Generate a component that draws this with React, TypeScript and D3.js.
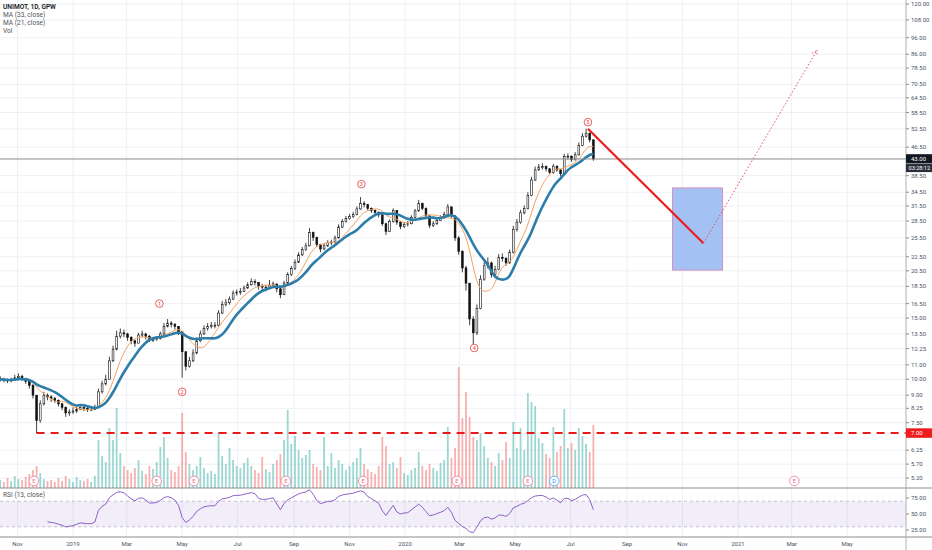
import React from "react"
import * as d3 from "d3"

const FIRST_BAR = "2018-10-13"
const BAR_DAYS = 4

const closes = [
  10.0, 9.95, 9.9, 9.95, 10.1, 10.2, 10.0, 9.85, 9.6, 9.0,
  7.6, 8.5, 9.0, 8.9, 8.8, 8.7, 8.5, 8.3, 8.0, 8.05,
  8.1, 8.2, 8.3, 8.25, 8.2, 8.2, 8.3, 9.2, 9.7, 10.0,
  11.3, 12.2, 13.3, 13.6, 13.5, 13.2, 12.9, 12.7, 13.4, 13.5,
  13.3, 13.0, 13.0, 13.1, 13.5, 14.2, 14.5, 14.4, 14.2, 13.7,
  12.0, 10.9, 11.3, 11.9, 12.9, 13.5, 14.0, 14.2, 14.3, 14.3,
  15.5, 16.4, 16.6, 17.0, 17.7, 17.8, 17.9, 18.3, 18.7, 19.1,
  19.0, 18.5, 18.4, 18.4, 18.6, 18.8, 18.2, 17.5, 18.9, 20.0,
  20.8, 21.7, 22.8, 23.6, 24.2, 26.4, 25.6, 24.4, 23.7, 24.2,
  24.7, 24.8, 25.5, 27.4, 28.4, 29.0, 29.4, 29.8, 30.9, 32.0,
  31.8, 31.0, 30.6, 30.2, 29.7, 28.0, 26.6, 28.4, 30.6, 28.3,
  27.5, 27.9, 28.0, 29.2, 30.5, 32.0, 31.0, 29.5, 27.7, 28.0,
  28.6, 29.1, 29.8, 31.3, 29.5, 25.5, 23.3, 20.9, 18.9, 14.9,
  13.6, 16.0, 19.4, 21.2, 21.6, 20.0, 20.7, 22.4, 22.3, 21.6,
  23.2, 27.0, 28.3, 30.1, 31.0, 33.8, 37.4, 40.0, 40.8, 40.9,
  40.3, 39.3, 41.0, 40.0, 39.0, 43.7, 43.8, 42.8, 44.2, 47.0,
  50.0, 51.0, 48.8, 43.0,
]

const highs = [
  10.2, 10.1, 10.05, 10.1, 10.3, 10.4, 10.3, 10.1, 9.9, 9.7,
  9.0, 8.7, 9.2, 9.1, 9.0, 8.9, 8.75, 8.55, 8.35, 8.2,
  8.3, 8.35, 8.45, 8.4, 8.35, 8.3, 8.45, 9.4, 9.9, 10.3,
  11.6, 12.5, 13.8, 14.0, 13.9, 13.6, 13.3, 13.0, 13.6, 13.8,
  13.6, 13.4, 13.2, 13.3, 13.7, 14.5, 14.9, 14.7, 14.5, 14.2,
  13.7, 12.0, 11.6, 12.2, 13.2, 13.8, 14.3, 14.5, 14.6, 14.6,
  15.8, 16.8, 17.0, 17.3, 18.0, 18.1, 18.3, 18.6, 19.0, 19.5,
  19.4, 19.0, 18.8, 18.7, 19.3, 19.1, 18.8, 18.3, 19.2, 20.3,
  21.2, 22.1, 23.2, 24.0, 24.7, 27.2, 26.6, 25.7, 24.5, 24.6,
  25.1, 25.2, 25.9, 27.9, 28.9, 29.5, 29.9, 30.3, 31.4, 33.4,
  32.5, 31.9, 31.2, 30.8, 30.4, 29.8, 28.2, 28.8, 31.0, 30.6,
  28.5, 28.3, 28.5, 29.6, 30.9, 32.8, 32.2, 31.2, 29.6, 28.5,
  29.0, 29.6, 30.3, 31.9, 31.4, 29.6, 25.8, 23.5, 21.2, 18.9,
  15.2, 16.4, 19.9, 21.8, 22.4, 21.8, 21.2, 22.9, 23.0, 22.4,
  23.6, 27.6, 28.9, 30.7, 31.6, 34.5, 38.2, 40.9, 41.6, 41.8,
  41.2, 40.5, 41.6, 41.2, 40.2, 44.5, 44.6, 44.0, 45.0, 48.0,
  51.0, 52.5, 51.2, 49.0,
]

const lows = [
  9.85, 9.8, 9.75, 9.8, 9.9, 10.0, 9.9, 9.7, 9.4, 8.8,
  7.0, 7.5, 8.4, 8.7, 8.6, 8.55, 8.35, 8.15, 7.8, 7.85,
  7.95, 8.0, 8.15, 8.1, 8.05, 8.1, 8.15, 8.3, 9.1, 9.6,
  10.0, 11.2, 12.1, 13.1, 13.2, 12.9, 12.6, 12.4, 12.7, 13.2,
  13.0, 12.8, 12.8, 12.9, 13.0, 13.4, 14.1, 14.1, 13.9, 13.4,
  10.1, 10.6, 10.8, 11.2, 11.8, 12.8, 13.4, 13.8, 14.0, 14.0,
  14.2, 15.4, 16.2, 16.4, 16.9, 17.4, 17.5, 17.8, 18.2, 18.6,
  18.6, 18.1, 18.0, 17.9, 18.2, 18.4, 17.8, 17.1, 17.5, 18.8,
  19.8, 20.6, 21.6, 22.6, 23.4, 24.1, 25.0, 24.0, 23.2, 23.5,
  24.0, 24.3, 24.6, 25.4, 27.2, 28.2, 28.8, 29.1, 29.6, 30.7,
  31.2, 30.6, 30.1, 29.8, 29.2, 27.6, 26.0, 26.5, 28.2, 27.8,
  27.0, 27.2, 27.5, 27.9, 29.0, 30.3, 30.6, 29.0, 27.2, 27.4,
  27.8, 28.5, 29.0, 29.7, 29.0, 25.0, 22.8, 20.3, 18.0, 14.3,
  12.6, 13.4, 15.9, 19.2, 20.8, 19.6, 19.8, 20.6, 21.8, 21.2,
  21.5, 23.0, 26.6, 28.0, 29.8, 30.8, 33.6, 37.2, 39.8, 40.1,
  39.6, 38.8, 39.0, 39.5, 38.3, 38.9, 42.8, 42.2, 42.5, 44.0,
  46.8, 49.5, 48.0, 42.5,
]

// volume, thousands of shares
const volumes = [
  8, 6, 10, 7, 12, 9, 8, 11, 14, 18,
  22, 15, 9, 7, 8, 6, 10, 7, 12, 9,
  6, 11, 8, 7, 9, 6, 12, 48, 32, 26,
  60, 48, 80, 35, 22, 18, 15, 20, 28, 17,
  14, 22, 19, 26, 41, 51, 30, 18, 16, 22,
  75, 36, 24, 18, 22, 31, 20, 15, 17, 14,
  56, 32, 24, 40, 28, 22, 20, 25, 30, 22,
  18, 15, 31, 19, 16, 24, 28, 34, 48, 78,
  44, 52, 38, 30, 33, 38, 24, 21, 18, 51,
  22, 35, 20, 28, 24, 18, 22, 26, 30, 40,
  24, 19, 16, 14, 22, 51, 42, 24, 26, 20,
  31, 15, 13, 18, 20, 36, 22, 18, 24, 20,
  17, 25, 28, 61, 30, 40, 121, 70, 96, 71,
  51, 48, 55, 42, 30, 26, 22, 35, 28, 46,
  30, 66, 40, 60, 38, 95, 86, 82, 50, 45,
  34, 30, 61, 36, 42, 79, 40, 45, 38, 60,
  52, 44, 36, 63,
]

const priceTicks = [
  120, 108, 96, 86, 78.5, 70.5, 64.5, 58.5, 52.5, 46.5, 38.5, 34.5, 31.5, 28.5, 25.5,
  22.5, 20.5, 18.5, 16.5, 15, 13.5, 12.25, 11, 10, 9, 8.25, 7.5, 6.25, 5.7, 5.2,
]
const rsiTicks = [75, 50, 25]
const rsiBand = [70, 30]

const lastPrice = 43.0
const supportLevel = 7.0
const countdown = "03:28:12"

const waveLabels = [
  { n: "1", date: "2019-04-06", price: 16.5 },
  { n: "2", date: "2019-05-01", price: 9.2 },
  { n: "3", date: "2019-11-14", price: 36.4 },
  { n: "4", date: "2020-03-17", price: 12.3 },
  { n: "5", date: "2020-07-20", price: 54.9 },
]

const events = [
  { t: "E", date: "2018-11-19" },
  { t: "E", date: "2019-04-03" },
  { t: "E", date: "2019-05-14" },
  { t: "E", date: "2019-08-23" },
  { t: "E", date: "2019-11-16" },
  { t: "E", date: "2020-02-27" },
  { t: "E", date: "2020-05-15" },
  { t: "D", date: "2020-06-13" },
  { t: "E", date: "2021-03-04" },
]

const dropLine = [
  { date: "2020-07-20", price: 52.5 },
  { date: "2020-11-24", price: 24.6 },
]
const reboundTarget = { date: "2021-03-29", price: 88.5 }
const targetBox = { from: "2020-10-21", to: "2020-12-15", top: 35.5, bottom: 20.6 }

// ---- helpers ----
const parse = d3.timeParse("%Y-%m-%d")
const day = (s: string) => parse(s) as Date

// daily MA periods translated to 4-calendar-day bars (~2.86 sessions each)
const SESSIONS_PER_BAR = (BAR_DAYS * 5) / 7
const per = (n: number) => Math.round(n / SESSIONS_PER_BAR)
// sampled closes are much smoother than dailies, so RSI keeps the full 13-bar lookback
const RSI_BARS = 13

function sma(values: number[], n: number) {
  return values.map((_, i) => d3.mean(values.slice(Math.max(0, i - n + 1), i + 1)) as number)
}

function rsi(values: number[], n: number) {
  const out: (number | null)[] = values.map(() => null)
  let up = 0
  let down = 0
  for (let i = 1; i < values.length; i++) {
    const ch = values[i] - values[i - 1]
    const g = Math.max(ch, 0)
    const l = Math.max(-ch, 0)
    if (i <= n) {
      up += g / n
      down += l / n
      if (i < n) continue
    } else {
      up = (up * (n - 1) + g) / n
      down = (down * (n - 1) + l) / n
    }
    out[i] = down === 0 ? 100 : 100 - 100 / (1 + up / down)
  }
  return out
}

const W = 932
const H = 550
const PLOT_R = 906
const MAIN_BOTTOM = 488
const RSI_BOTTOM = 537
const FONT = "Roboto, 'Liberation Sans', sans-serif"

export default function App() {
  const first = day(FIRST_BAR)
  const dates = closes.map((_, i) => d3.timeDay.offset(first, i * BAR_DAYS))
  const opens = closes.map((c, i) => (i === 0 ? c : closes[i - 1]))
  const maSlow = sma(closes, per(33))
  const maFast = sma(closes, per(21))
  const rsiVals = rsi(closes, RSI_BARS)

  const x = d3.scaleTime().domain([day("2019-01-01"), day("2021-01-01")]).range([73, 738])
  const y = d3.scaleLog().domain([5.2, 120]).range([478, 4])
  const yVol = d3.scaleLinear().domain([0, d3.max(volumes) as number]).range([MAIN_BOTTOM, 367])
  const yRsi = d3.scaleLinear().domain([25, 75]).range([530, 498])

  const months = d3.timeMonth.range(day("2018-11-01"), day("2021-06-01"), 2)
  const fmtMonth = (d: Date) => (d.getMonth() === 0 ? d3.timeFormat("%Y")(d) : d3.timeFormat("%b")(d))

  const maLine = d3
    .line<number>()
    .x((_, i) => x(dates[i]))
    .y((v) => y(v))
    .curve(d3.curveBasis)

  const rsiLine = d3
    .line<number | null>()
    .defined((v) => v != null)
    .x((_, i) => x(dates[i]))
    .y((v) => yRsi(v as number))

  const bw = 1.8
  const vw = 1.8

  // support line starts at the bar with the lowest low
  const lowIdx = d3.minIndex(lows)

  const p0 = [x(day(dropLine[0].date)), y(dropLine[0].price)]
  const p1 = [x(day(dropLine[1].date)), y(dropLine[1].price)]
  const p2 = [x(day(reboundTarget.date)), y(reboundTarget.price)]
  const ang = Math.atan2(p2[1] - p1[1], p2[0] - p1[0])
  const head = (a: number) => [p2[0] - 6 * Math.cos(ang + a), p2[1] - 6 * Math.sin(ang + a)]
  const h1 = head(0.45)
  const h2 = head(-0.45)

  return (
    <svg
      width={W}
      height={H}
      style={{ position: "absolute", left: 0, top: 0, background: "#fff" }}
      fontFamily={FONT}
    >
      <defs>
        <clipPath id="main">
          <rect x={0} y={0} width={PLOT_R} height={MAIN_BOTTOM} />
        </clipPath>
        <clipPath id="rsi">
          <rect x={0} y={MAIN_BOTTOM} width={PLOT_R} height={RSI_BOTTOM - MAIN_BOTTOM} />
        </clipPath>
      </defs>

      {/* grid */}
      <g stroke="#eef0f5" strokeWidth={1}>
        {priceTicks.map((t) => (
          <line key={t} x1={0} x2={PLOT_R} y1={y(t)} y2={y(t)} />
        ))}
        {months.map((m) => (
          <line key={+m} x1={x(m)} x2={x(m)} y1={0} y2={RSI_BOTTOM} />
        ))}
      </g>

      <g clipPath="url(#main)">
        {/* volume */}
        {volumes.map((v, i) => (
          <rect
            key={i}
            x={x(dates[i]) - vw / 2}
            y={yVol(v)}
            width={vw}
            height={MAIN_BOTTOM - yVol(v)}
            fill={closes[i] >= opens[i] ? "rgba(38,166,154,0.45)" : "rgba(239,83,80,0.45)"}
          />
        ))}

        {/* support level */}
        <line
          x1={x(dates[lowIdx])}
          x2={PLOT_R}
          y1={y(supportLevel)}
          y2={y(supportLevel)}
          stroke="#e8191b"
          strokeWidth={2}
          strokeDasharray="8,6"
        />

        {/* candles */}
        {closes.map((c, i) => {
          const cx = x(dates[i])
          const o = opens[i]
          const top = y(Math.max(o, c))
          const bot = y(Math.min(o, c))
          return (
            <g key={i}>
              <line x1={cx} x2={cx} y1={y(highs[i])} y2={y(lows[i])} stroke="#111" strokeWidth={0.8} />
              <rect
                x={cx - bw / 2}
                y={top}
                width={bw}
                height={Math.max(bot - top, 0.8)}
                fill={c >= o ? "#fff" : "#111"}
                stroke="#111"
                strokeWidth={0.6}
              />
            </g>
          )
        })}

        {/* moving averages */}
        <path d={maLine(maFast) as string} fill="none" stroke="#f4a261" strokeWidth={1} />
        <path d={maLine(maSlow) as string} fill="none" stroke="#2c7daa" strokeWidth={2.6} />

        {/* last price line */}
        <line x1={0} x2={PLOT_R} y1={y(lastPrice)} y2={y(lastPrice)} stroke="#8a8a8a" strokeWidth={1} />

        {/* projection */}
        <rect
          x={x(day(targetBox.from))}
          y={y(targetBox.top)}
          width={x(day(targetBox.to)) - x(day(targetBox.from))}
          height={y(targetBox.bottom) - y(targetBox.top)}
          fill="#a4c1f4"
          stroke="#d58fc0"
          strokeWidth={1}
        />
        <line x1={p0[0]} y1={p0[1]} x2={p1[0]} y2={p1[1]} stroke="#ee1c1c" strokeWidth={2.2} />
        <line
          x1={p1[0]}
          y1={p1[1]}
          x2={p2[0]}
          y2={p2[1]}
          stroke="#ec4a5e"
          strokeWidth={1}
          strokeDasharray="1.5,2"
        />
        <polyline
          points={`${h1[0]},${h1[1]} ${p2[0]},${p2[1]} ${h2[0]},${h2[1]}`}
          fill="none"
          stroke="#ec4a5e"
          strokeWidth={0.8}
          strokeDasharray="1.5,1.5"
        />

        {/* wave count */}
        {waveLabels.map((w) => (
          <g key={w.n} transform={`translate(${x(day(w.date))},${y(w.price)})`}>
            <circle r={3.8} fill="#fff" stroke="#e53935" strokeWidth={0.8} />
            <text textAnchor="middle" y={2} fontSize={5.5} fill="#e53935">
              {w.n}
            </text>
          </g>
        ))}

        {/* earnings / dividends */}
        {events.map((e, i) => (
          <g key={i} transform={`translate(${x(day(e.date))},481)`}>
            <circle r={4.8} fill="#fff" stroke={e.t === "D" ? "#64b5f6" : "#f48fb1"} strokeWidth={1} />
            <text textAnchor="middle" y={2.1} fontSize={5.8} fill={e.t === "D" ? "#2196f3" : "#e57373"}>
              {e.t}
            </text>
          </g>
        ))}
      </g>

      {/* RSI pane */}
      <rect
        x={0}
        y={yRsi(rsiBand[0])}
        width={PLOT_R}
        height={yRsi(rsiBand[1]) - yRsi(rsiBand[0])}
        fill="rgba(149,117,205,0.13)"
      />
      {rsiBand.map((b) => (
        <line
          key={b}
          x1={0}
          x2={PLOT_R}
          y1={yRsi(b)}
          y2={yRsi(b)}
          stroke="#b8b2c8"
          strokeWidth={0.8}
          strokeDasharray="3,3"
        />
      ))}
      <g clipPath="url(#rsi)">
        <path d={rsiLine(rsiVals) as string} fill="none" stroke="#8e5fc8" strokeWidth={1} />
      </g>

      {/* pane frames */}
      <line x1={0} x2={W} y1={MAIN_BOTTOM} y2={MAIN_BOTTOM} stroke="#8c8c8c" strokeWidth={1} />
      <line x1={0} x2={W} y1={RSI_BOTTOM} y2={RSI_BOTTOM} stroke="#8c8c8c" strokeWidth={1} />
      <line x1={PLOT_R} x2={PLOT_R} y1={0} y2={H} stroke="#b0b0b0" strokeWidth={1} />

      {/* price axis */}
      <g fontSize={6} fill="#4c525e">
        {priceTicks.map((t) => (
          <g key={t}>
            <line x1={PLOT_R} x2={PLOT_R + 3} y1={y(t)} y2={y(t)} stroke="#8c8c8c" />
            <text x={PLOT_R + 5} y={y(t) + 2.1}>
              {d3.format(".2f")(t)}
            </text>
          </g>
        ))}
        {rsiTicks.map((t) => (
          <g key={t}>
            <line x1={PLOT_R} x2={PLOT_R + 3} y1={yRsi(t)} y2={yRsi(t)} stroke="#8c8c8c" />
            <text x={PLOT_R + 5} y={yRsi(t) + 2.1}>
              {d3.format(".2f")(t)}
            </text>
          </g>
        ))}
      </g>

      {/* price tags */}
      <rect x={PLOT_R} y={y(lastPrice) - 4.8} width={W - PLOT_R} height={9} fill="#131722" />
      <text x={PLOT_R + 5} y={y(lastPrice) + 2} fontSize={6} fill="#fff">
        {d3.format(".2f")(lastPrice)}
      </text>
      <rect x={PLOT_R} y={y(lastPrice) + 4.6} width={W - PLOT_R} height={8.5} fill="#2a2e39" />
      <text x={PLOT_R + 2.5} y={y(lastPrice) + 11} fontSize={5.6} fill="#fff">
        {countdown}
      </text>
      <rect x={PLOT_R} y={y(supportLevel) - 4.8} width={W - PLOT_R} height={9.5} fill="#ee1c1c" />
      <text x={PLOT_R + 5} y={y(supportLevel) + 2.2} fontSize={6} fill="#fff">
        {d3.format(".2f")(supportLevel)}
      </text>

      {/* time axis */}
      <g fontSize={6} fill="#4c525e" textAnchor="middle">
        {months.map((m) => (
          <text key={+m} x={x(m)} y={546}>
            {fmtMonth(m)}
          </text>
        ))}
      </g>

      {/* legends */}
      <g fontSize={6.6}>
        <text x={3} y={9} fill="#131722" fontWeight={600}>
          UNIMOT, 1D, GPW
        </text>
        <text x={3} y={17} fill="#555">
          MA (33, close)
        </text>
        <text x={3} y={25} fill="#555">
          MA (21, close)
        </text>
        <text x={3} y={33} fill="#555">
          Vol
        </text>
        <text x={3} y={497} fill="#555">
          RSI (13, close)
        </text>
      </g>
    </svg>
  )
}
